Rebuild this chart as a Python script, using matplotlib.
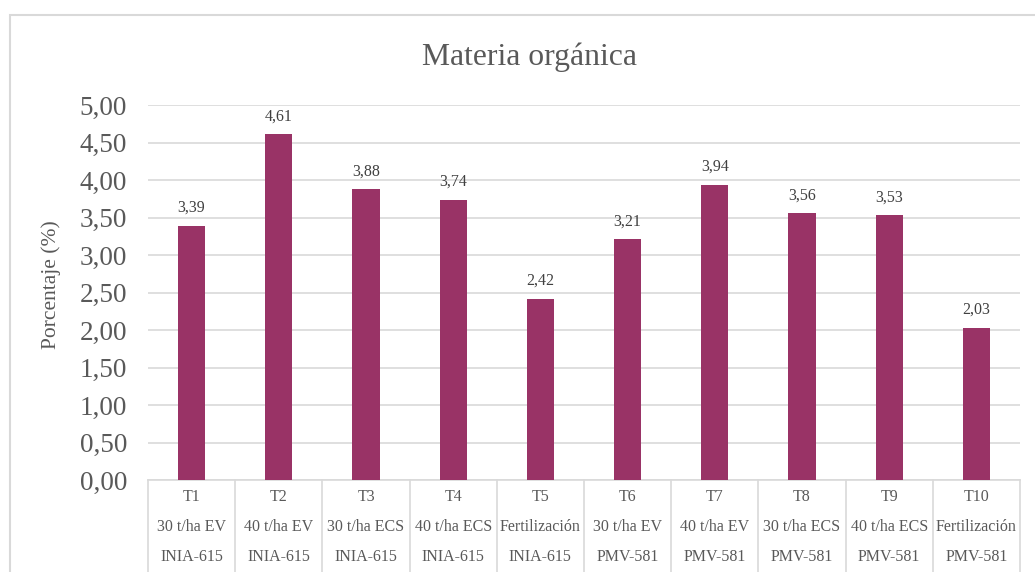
import matplotlib
matplotlib.use("Agg")
import matplotlib.pyplot as plt
from matplotlib.patches import Rectangle
import matplotlib.transforms as mtransforms

# Materia orgánica por tratamiento
tratamientos = ['T1', 'T2', 'T3', 'T4', 'T5', 'T6', 'T7', 'T8', 'T9', 'T10']
dosis = ['30 t/ha EV', '40 t/ha EV', '30 t/ha ECS', '40 t/ha ECS', 'Fertilización',
         '30 t/ha EV', '40 t/ha EV', '30 t/ha ECS', '40 t/ha ECS', 'Fertilización']
variedad = ['INIA-615'] * 5 + ['PMV-581'] * 5
materia_organica = [3.39, 4.61, 3.88, 3.74, 2.42, 3.21, 3.94, 3.56, 3.53, 2.03]
y_ticks = [0, 0.5, 1.0, 1.5, 2.0, 2.5, 3.0, 3.5, 4.0, 4.5, 5.0]

W, H = 1035, 572
bar_color = '#993366'
grid_color = '#d9d9d9'
text_color = '#595959'

plt.rcParams['font.family'] = ['Liberation Serif', 'DejaVu Serif']

fig = plt.figure(figsize=(W / 100, H / 100), dpi=100)
fig.patch.set_facecolor('white')

# chart border (runs off the right and bottom edge)
fig.patches.append(Rectangle((10 / W, -0.1), 1.2, 1 - 15 / H + 0.1, transform=fig.transFigure,
                             fill=False, edgecolor=grid_color, linewidth=1.5))

ax = fig.add_axes([148 / W, (H - 480) / H, 872 / W, 375 / H])
x = list(range(len(tratamientos)))
ax.bar(x, materia_organica, width=0.31, color=bar_color, zorder=3)

for xi, v in zip(x, materia_organica):
    ax.annotate(f'{v:.2f}'.replace('.', ','), (xi, v), xytext=(0, 7), textcoords='offset points',
                ha='center', va='bottom', fontsize=11.5, color='#404040')

ax.set_xlim(-0.5, len(tratamientos) - 0.5)
ax.set_ylim(0, 5)
ax.set_yticks(y_ticks)
ax.set_yticklabels([f'{t:.2f}'.replace('.', ',') for t in y_ticks], fontsize=19.5, color=text_color)
ax.tick_params(axis='y', length=0, pad=15)
ax.set_xticks([])
ax.grid(axis='y', color=grid_color, linewidth=1.2, zorder=0)
for s in ['top', 'right', 'left']:
    ax.spines[s].set_visible(False)
ax.spines['bottom'].set_color(grid_color)
ax.spines['bottom'].set_linewidth(1.2)

ax.set_ylabel('Porcentaje (%)', fontsize=15.5, color=text_color)
ax.yaxis.set_label_coords((61 - 148) / 872, 0.52)

# multi-level category labels below the axis
trans = mtransforms.blended_transform_factory(ax.transData, ax.transAxes)
rows = [(497, tratamientos), (527, dosis), (557, variedad)]
for py, labels in rows:
    ya = (480 - py) / 375
    for xi, lab in zip(x, labels):
        ax.text(xi, ya, lab, transform=trans, ha='center', va='center',
                fontsize=11.5, color=text_color, clip_on=False)
for i in range(len(tratamientos) + 1):
    ax.plot([i - 0.5, i - 0.5], [0, -0.3], transform=trans, color=grid_color,
            linewidth=1.2, clip_on=False)

fig.text(529.5 / W, 1 - 65 / H, 'Materia orgánica', ha='center', va='baseline',
         fontsize=22.8, color=text_color)

fig.savefig('out.png', dpi=100)
